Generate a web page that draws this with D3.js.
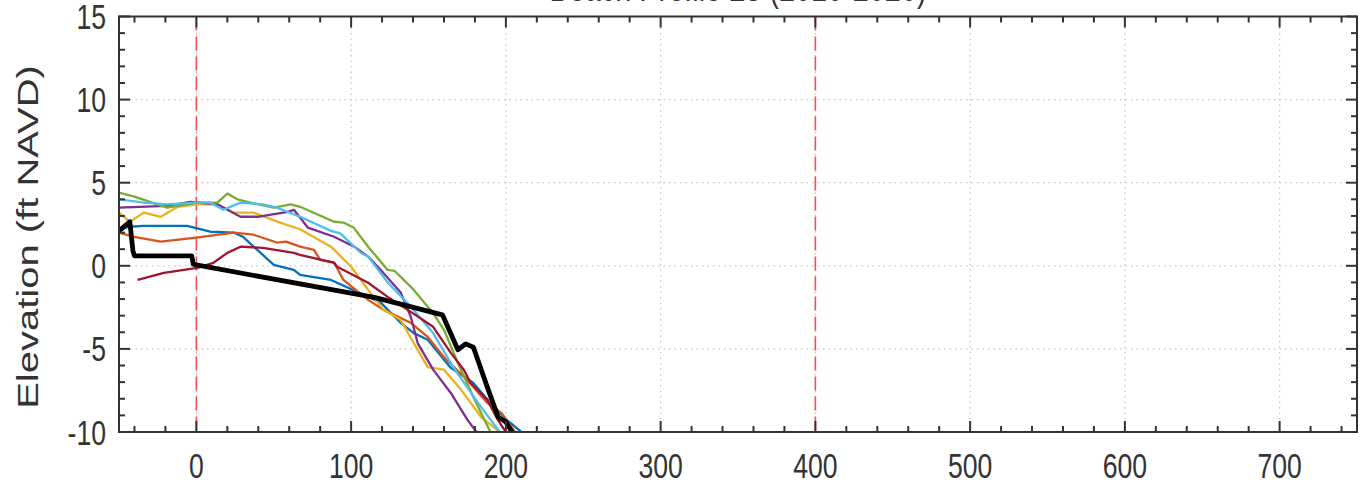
<!DOCTYPE html>
<html>
<head>
<meta charset="utf-8">
<script src="https://cdn.jsdelivr.net/npm/d3@7"></script>
<style>
  html, body { margin: 0; padding: 0; background: #fff; }
  svg { display: block; }
  text { font-family: "Liberation Sans", Arial, Helvetica, sans-serif; fill: #333; }
</style>
</head>
<body>
<svg id="chart" width="1364" height="487"></svg>
<script>
// ---------- data ----------
const titleText = "Beach Profile 23 (2010-2020)";
const yLabel = "Elevation (ft NAVD)";
const xTicks = [0, 100, 200, 300, 400, 500, 600, 700];
const yTicks = [-10, -5, 0, 5, 10, 15];
const refLinesX = [0, 400];

const survey1 = [[-50,2.17],[-43,2.35],[-34,2.4],[-6,2.4],[9,2.05],[24,2.0],[30,1.75],[50,0.06],[63,-0.24],[67,-0.55],[87,-0.85],[111,-1.87],[119,-2.2],[132,-3.43],[140.5,-4.05],[149.5,-4.45],[164,-6.1],[179,-7.05],[190,-8.25],[201,-9.3],[210,-10]];
const survey2 = [[-50,2.0],[-41,1.75],[-23,1.45],[0,1.7],[24,2.0],[37,1.87],[52,1.4],[58,1.45],[67,1.15],[76,0.96],[80,0.36],[89,0.2],[95,-0.85],[111,-2.05],[121,-2.65],[138.5,-3.43],[149.5,-4.28],[160,-5.5],[175,-6.87],[188,-8.25],[197,-8.85],[206,-10]];
const survey3 = [[-50,3.2],[-43,2.65],[-34,3.2],[-23,2.95],[-12,3.55],[0,3.7],[13,3.7],[24,3.2],[37,3.2],[54,2.6],[67,2.2],[87,1.15],[100,-0.06],[111,-1.45],[121,-2.65],[132,-3.25],[143,-5.06],[149.5,-6.1],[160,-6.25],[171,-7.45],[184,-9.1],[196,-10]];
const survey4 = [[-50,3.5],[-19,3.6],[-4,3.85],[13.6,3.7],[28.5,2.95],[39.5,2.95],[59,3.25],[63,3.37],[72,2.3],[89,1.75],[102,1.15],[111,0.55],[119,-0.24],[132,-1.6],[138.5,-3.05],[143,-4.65],[153,-6.25],[164.4,-7.65],[175.4,-9.3],[181,-10]];
const survey5 = [[-50,4.4],[-39.5,4.15],[-19,3.5],[0.6,3.8],[13.6,3.8],[20,4.35],[26.5,4.0],[35,3.8],[50,3.5],[61,3.7],[67,3.55],[89,2.65],[95,2.6],[101.6,2.3],[111,1.15],[123.6,-0.25],[128,-0.3],[140.5,-1.45],[153,-2.85],[160,-3.85],[169,-5.85],[179,-7.9],[190,-10]];
const survey6 = [[-50,4.0],[-34,3.8],[-19,3.7],[0.6,3.8],[9,3.8],[17.5,3.37],[28.5,3.8],[43,3.7],[52,3.5],[67,2.95],[87,2.1],[93,1.95],[106,0.8],[111,0.55],[123.6,-1.0],[138.5,-2.45],[153,-4.05],[166,-6.1],[182,-8.25],[196,-10]];
const survey7 = [[-38,-0.85],[-21,-0.42],[0.6,-0.12],[11,0.18],[20,0.78],[28.5,1.15],[43,1.08],[63,0.78],[67,0.66],[89,0.18],[91,-0.06],[111,-1.02],[123.6,-1.87],[136.6,-2.65],[153,-3.67],[164.4,-5.24],[172.8,-6.25],[177.3,-7.05],[188,-8.07],[195,-9.3],[200,-10]];
const baseline = [[-50,2.1],[-43,2.65],[-41,0.9],[-40,0.6],[-3,0.6],[-2,0.1],[0,0.05],[115,-1.9],[159,-2.95],[169,-5.05],[174,-4.7],[179,-4.9],[188,-7.3],[195,-9.1],[200,-9.4],[204,-10]];

const surveys = [survey1, survey2, survey3, survey4, survey5, survey6, survey7];
const surveyColors = ["#0072BD", "#D95319", "#EDB120", "#7E2F8E", "#77AC30", "#4DBEEE", "#A2142F"];

// ---------- chart ----------
const svg = d3.select("#chart");
const pL = 119, pR = 1357, pT = 16.5, pB = 432;
const x = d3.scaleLinear().domain([-50, 750]).range([pL, pR]);
const y = d3.scaleLinear().domain([-10, 15]).range([pB, pT]);
const SX = 0.76; // horizontal glyph compression

svg.append("defs").append("clipPath").attr("id", "clip")
  .append("rect").attr("x", pL).attr("y", pT).attr("width", pR - pL).attr("height", pB - pT);

// grid
const grid = svg.append("g").attr("stroke", "#c4c4c4").attr("stroke-width", 1.2).attr("stroke-dasharray", "1.5,4");
xTicks.forEach(t => grid.append("line").attr("x1", x(t)).attr("x2", x(t)).attr("y1", pT).attr("y2", pB));
yTicks.forEach(t => grid.append("line").attr("x1", pL).attr("x2", pR).attr("y1", y(t)).attr("y2", y(t)));

// reference red dashed lines
refLinesX.forEach(t => svg.append("line")
  .attr("x1", x(t)).attr("x2", x(t)).attr("y1", pT).attr("y2", pB)
  .attr("stroke", "#ff4a4a").attr("stroke-width", 1.6).attr("stroke-dasharray", "14,6"));

// lines
const line = d3.line().x(d => x(d[0])).y(d => y(d[1]));
const plot = svg.append("g").attr("clip-path", "url(#clip)");
surveys.forEach((s, i) => plot.append("path").attr("d", line(s))
  .attr("fill", "none").attr("stroke", surveyColors[i]).attr("stroke-width", 2.3)
  .attr("stroke-linejoin", "round"));
plot.append("path").attr("d", line(baseline))
  .attr("fill", "none").attr("stroke", "#000").attr("stroke-width", 4.8)
  .attr("stroke-linejoin", "round");

// axes box and inward ticks
const ax = svg.append("g").attr("stroke", "#333").attr("stroke-width", 2);
ax.append("rect").attr("x", pL).attr("y", pT).attr("width", pR - pL).attr("height", pB - pT).attr("fill", "none");
const xMinor = d3.range(-40, 751, 20);
const yMinor = d3.range(-10, 15.01, 1);
const MAJ = 11, MIN = 6;
xMinor.forEach(t => {
  const L = (t % 100 === 0) ? MAJ : MIN;
  ax.append("line").attr("x1", x(t)).attr("x2", x(t)).attr("y1", pB).attr("y2", pB - L);
  ax.append("line").attr("x1", x(t)).attr("x2", x(t)).attr("y1", pT).attr("y2", pT + L);
});
yMinor.forEach(t => {
  const L = (t % 5 === 0) ? MAJ : MIN;
  ax.append("line").attr("x1", pL).attr("x2", pL + L).attr("y1", y(t)).attr("y2", y(t));
  ax.append("line").attr("x1", pR).attr("x2", pR - L).attr("y1", y(t)).attr("y2", y(t));
});

// tick labels
xTicks.forEach(t => svg.append("text")
  .attr("transform", `translate(${x(t)},478) scale(${SX},1)`)
  .attr("text-anchor", "middle").attr("font-size", 35).text(t));
yTicks.forEach(t => svg.append("text")
  .attr("transform", `translate(106,${y(t) + 12.5}) scale(${SX},1)`)
  .attr("text-anchor", "end").attr("font-size", 35).text(t));

// y label
svg.append("text")
  .attr("transform", `translate(38,237) scale(${SX},1) rotate(-90)`)
  .attr("text-anchor", "middle").attr("font-size", 40).text(yLabel);

// title (cut off at top, as in the reference)
svg.append("text")
  .attr("transform", `translate(${(pL + pR) / 2},1) scale(${SX},1)`)
  .attr("text-anchor", "middle").attr("font-size", 38).text(titleText);
</script>
</body>
</html>
